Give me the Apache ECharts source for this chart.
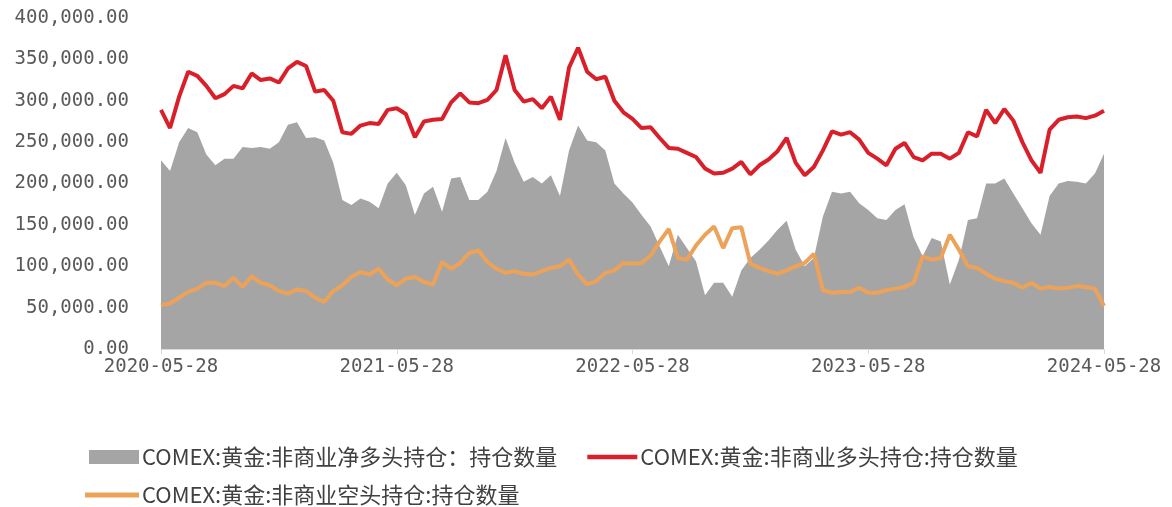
<!DOCTYPE html>
<html>
<head>
<meta charset="utf-8">
<script src="https://cdn.jsdelivr.net/npm/echarts@6/dist/echarts.min.js"></script>
<style>
  html, body { margin: 0; padding: 0; background: #fff; }
  #chart { width: 1172px; height: 507px; }
</style>
</head>
<body>
<div id="chart"></div>
<script>
// biweekly points, 2020-05-28 .. 2024-05-28
var tickLabels = ["2020-05-28", "2021-05-28", "2022-05-28", "2023-05-28", "2024-05-28"];
var seriesNames = [
  "COMEX:黄金:非商业净多头持仓：持仓数量",
  "COMEX:黄金:非商业多头持仓:持仓数量",
  "COMEX:黄金:非商业空头持仓:持仓数量"
];

var netLong = [
  228000, 215000, 250000, 267000, 262000, 235000, 222000, 230000, 230000, 244000,
  243000, 244000, 242000, 250000, 271000, 274000, 255000, 256000, 252000, 225000,
  180000, 174000, 182000, 178000, 170000, 200000, 213000, 198000, 162000, 188000,
  196000, 166000, 206000, 208000, 180000, 180000, 190000, 215000, 255000, 225000,
  202000, 208000, 200000, 210000, 185000, 240000, 270000, 252000, 250000, 240000,
  200000, 188000, 177000, 162000, 148000, 124000, 100000, 138000, 122000, 106000,
  65000, 80000, 80000, 63000, 95000, 110000, 120000, 131000, 144000, 155000,
  120000, 100000, 110000, 160000, 190000, 188000, 190000, 176000, 168000, 158000,
  156000, 168000, 175000, 135000, 112000, 134000, 130000, 78000, 108000, 156000,
  158000, 200000, 200000, 206000, 188000, 170000, 152000, 138000, 185000, 200000,
  203000, 202000, 200000, 212000, 236000
];

var longPos = [
  289000, 267000, 305000, 335000, 330000, 318000, 303000, 308000, 318000, 315000,
  333000, 325000, 327000, 322000, 339000, 347000, 342000, 311000, 313000, 300000,
  262000, 260000, 270000, 273000, 272000, 289000, 291000, 284000, 256000, 275000,
  277000, 278000, 298000, 309000, 298000, 297000, 301000, 313000, 355000, 313000,
  299000, 302000, 291000, 305000, 277000, 340000, 364000, 335000, 326000, 329000,
  300000, 286000, 278000, 267000, 268000, 255000, 243000, 242000, 237000, 232000,
  218000, 212000, 213000, 218000, 226000, 211000, 222000, 229000, 239000, 255000,
  225000, 210000, 220000, 240000, 263000, 259000, 262000, 253000, 237000, 230000,
  222000, 242000, 249000, 232000, 228000, 236000, 236000, 230000, 237000, 262000,
  257000, 289000, 273000, 290000, 276000, 250000, 228000, 213000, 265000, 277000,
  280000, 281000, 279000, 282000, 288000
];

var shortPos = [
  53000, 55000, 62000, 69000, 73000, 80000, 80000, 76000, 86000, 75000,
  88000, 80000, 77000, 70000, 67000, 72000, 70000, 62000, 57000, 70000,
  77000, 87000, 93000, 90000, 97000, 84000, 77000, 85000, 87000, 81000,
  78000, 105000, 97000, 104000, 116000, 119000, 105000, 97000, 92000, 94000,
  91000, 90000, 94000, 98000, 100000, 108000, 90000, 78000, 82000, 92000,
  95000, 104000, 103000, 104000, 113000, 130000, 145000, 110000, 108000, 125000,
  138000, 148000, 122000, 146000, 147000, 103000, 98000, 94000, 91000, 95000,
  100000, 104000, 115000, 71000, 68000, 69000, 69000, 74000, 68000, 68000,
  71000, 73000, 75000, 80000, 112000, 108000, 110000, 138000, 120000, 100000,
  98000, 91000, 85000, 82000, 80000, 74000, 80000, 73000, 75000, 73000,
  74000, 76000, 75000, 73000, 52000
];

// category dates, 14 days apart
var categories = [];
var start = new Date(Date.UTC(2020, 4, 28));
for (var i = 0; i < netLong.length; i++) {
  var d = new Date(start.getTime() + i * 14 * 86400000);
  categories.push(d.toISOString().slice(0, 10));
}
var labelStep = (netLong.length - 1) / (tickLabels.length - 1);

function fmt(v) {
  var s = String(Math.round(v));
  return s.replace(/\B(?=(\d{3})+(?!\d))/g, ",") + ".00";
}

var axisFont = "'DejaVu Sans Mono', monospace";
var legendFont = "'Noto Sans CJK SC', sans-serif";
var lineIcon = "path://M0,0 H108 V10 H0 Z";

var myChart = echarts.init(document.getElementById("chart"));
myChart.setOption({
  animation: false,
  backgroundColor: "#fff",
  grid: { left: 161, right: 68, top: 18, bottom: 158, containLabel: false },
  legend: [
    {
      left: 84,
      top: 441,
      itemWidth: 50,
      itemHeight: 14,
      itemGap: 30,
      textStyle: { fontFamily: legendFont, fontSize: 22, color: "#404040", padding: [0, 0, 0, -2] },
      data: [{ name: seriesNames[0], icon: "rect" }, { name: seriesNames[1], icon: lineIcon }]
    },
    {
      left: 80,
      top: 479,
      itemWidth: 54,
      itemHeight: 14,
      textStyle: { fontFamily: legendFont, fontSize: 22, color: "#404040", padding: [0, 0, 0, -2] },
      data: [{ name: seriesNames[2], icon: lineIcon }]
    }
  ],
  xAxis: {
    type: "category",
    boundaryGap: false,
    data: categories,
    axisLine: { lineStyle: { color: "#d9d9d9", width: 1 } },
    axisTick: {
      show: true,
      length: 5,
      lineStyle: { color: "#d9d9d9" },
      interval: function (idx) { return idx % labelStep === 0; }
    },
    axisLabel: {
      interval: function (idx) { return idx % labelStep === 0; },
      formatter: function (val, idx) { return tickLabels[Math.round(idx / labelStep)]; },
      fontFamily: axisFont,
      fontSize: 19,
      color: "#595959",
      margin: 9
    },
    splitLine: { show: false }
  },
  yAxis: {
    type: "value",
    min: 0,
    max: 400000,
    interval: 50000,
    axisLine: { show: false },
    axisTick: { show: false },
    splitLine: { show: false },
    axisLabel: {
      formatter: fmt,
      fontFamily: axisFont,
      fontSize: 19,
      color: "#595959",
      margin: 32
    }
  },
  series: [
    {
      name: seriesNames[0],
      type: "line",
      data: netLong,
      symbol: "none",
      lineStyle: { width: 0 },
      itemStyle: { color: "#a5a5a5" },
      areaStyle: { color: "#a5a5a5", opacity: 1 },
      z: 1
    },
    {
      name: seriesNames[2],
      type: "line",
      data: shortPos,
      symbol: "none",
      lineStyle: { width: 4, color: "#eda25a" },
      itemStyle: { color: "#eda25a" },
      z: 2
    },
    {
      name: seriesNames[1],
      type: "line",
      data: longPos,
      symbol: "none",
      lineStyle: { width: 4, color: "#d9202a" },
      itemStyle: { color: "#d9202a" },
      z: 3
    }
  ]
});
</script>
</body>
</html>
